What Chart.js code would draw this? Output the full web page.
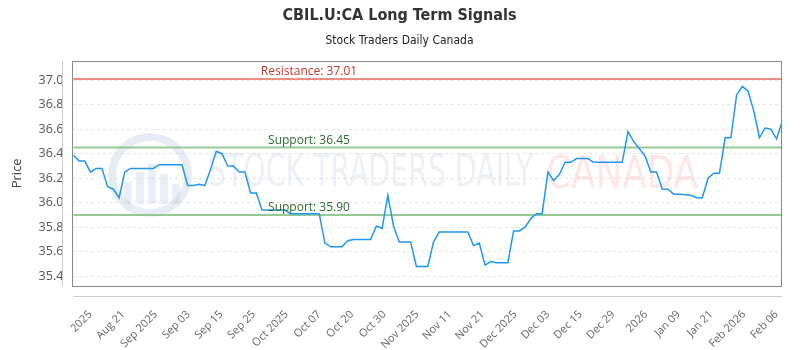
<!DOCTYPE html>
<html>
<head>
<meta charset="utf-8">
<script src="https://cdn.jsdelivr.net/npm/chart.js@4/dist/chart.umd.min.js"></script>
<style>
  body { margin: 0; background: #fff; }
  #wrap { width: 800px; height: 350px; }
</style>
</head>
<body>
<div id="wrap"><canvas id="myChart"></canvas></div>
<script>
// price, one value per session
const prices = [
  36.39, 36.34, 36.34, 36.25, 36.28, 36.28, 36.13, 36.11, 36.04, 36.25,
  36.28, 36.28, 36.28, 36.28, 36.28, 36.31, 36.31, 36.31, 36.31, 36.31,
  36.14, 36.14, 36.15, 36.14, 36.27, 36.42, 36.40, 36.30, 36.30, 36.25,
  36.25, 36.08, 36.08, 35.94, 35.94, 35.94, 35.94, 35.94, 35.91, 35.91,
  35.91, 35.91, 35.91, 35.91, 35.67, 35.64, 35.64, 35.64, 35.69, 35.70,
  35.70, 35.70, 35.70, 35.81, 35.79, 36.06, 35.81, 35.68, 35.68, 35.68,
  35.48, 35.48, 35.48, 35.68, 35.76, 35.76, 35.76, 35.76, 35.76, 35.76,
  35.65, 35.67, 35.49, 35.52, 35.51, 35.51, 35.51, 35.77, 35.77, 35.80,
  35.87, 35.91, 35.91, 36.25, 36.18, 36.23, 36.33, 36.33, 36.36, 36.36,
  36.36, 36.33, 36.33, 36.33, 36.33, 36.33, 36.33, 36.58, 36.50, 36.44,
  36.38, 36.25, 36.25, 36.11, 36.11, 36.07, 36.07, 36.065, 36.06, 36.04,
  36.04, 36.20, 36.24, 36.24, 36.53, 36.53, 36.88, 36.95, 36.91, 36.75,
  36.53, 36.61, 36.60, 36.52, 36.67
]
const tickLabels = ['2025', 'Aug 21', 'Sep 2025', 'Sep 03', 'Sep 15', 'Sep 25', 'Oct 2025', 'Oct 07',
  'Oct 20', 'Oct 30', 'Nov 2025', 'Nov 11', 'Nov 21', 'Dec 2025', 'Dec 03', 'Dec 15', 'Dec 29',
  '2026', 'Jan 09', 'Jan 21', 'Feb 2026', 'Feb 06']
const yTicks = [35.4, 35.6, 35.8, 36.0, 36.2, 36.4, 36.6, 36.8, 37.0]
const resistance = 37.01
const supports = [36.45, 35.90]

const firstTick = 3
const tickStep = 5.714
const lastIdx = prices.length - 1

const levelLine = (v) => [{ x: 0, y: v }, { x: lastIdx, y: v }]

const chartDeco = {
  id: 'chartDeco',
  beforeDatasetsDraw(chart) {
    const { ctx } = chart
    ctx.save()
    // watermark
    ctx.strokeStyle = 'rgba(190,200,225,0.35)'
    ctx.lineWidth = 8
    ctx.beginPath()
    ctx.arc(150, 175, 38, 0, Math.PI * 2)
    ctx.stroke()
    ctx.fillStyle = 'rgba(190,200,225,0.3)'
    ;[[124, 22], [136, 32], [148, 40], [160, 30], [172, 20]].forEach(([x, h]) => {
      ctx.fillRect(x, 204 - h, 8, h)
    })
    ctx.font = '44px "DejaVu Sans Condensed", "Liberation Sans Narrow", sans-serif'
    ctx.textBaseline = 'middle'
    const w1 = ctx.measureText('STOCK TRADERS DAILY').width
    ctx.translate(208, 175)
    ctx.scale(325 / w1, 1)
    ctx.fillStyle = 'rgba(200,210,230,0.32)'
    ctx.fillText('STOCK TRADERS DAILY', 0, 0)
    ctx.setTransform(1, 0, 0, 1, 0, 0)
    const w2 = ctx.measureText('CANADA').width
    ctx.translate(546, 177)
    ctx.scale(152 / w2, 1)
    ctx.fillStyle = 'rgba(255,170,170,0.28)'
    ctx.fillText('CANADA', 0, 0)
    ctx.restore()
  },
  afterDatasetsDraw(chart) {
    const { ctx, chartArea: a, scales: { y } } = chart
    ctx.save()
    ctx.font = '12px "Open Sans", sans-serif'
    ctx.textAlign = 'center'
    ctx.textBaseline = 'bottom'
    ctx.fillStyle = '#c0392b'
    ctx.fillText('Resistance: ' + resistance.toFixed(2), 309, y.getPixelForValue(resistance) - 1)
    ctx.fillStyle = '#2e6b2e'
    supports.forEach(s => ctx.fillText('Support: ' + s.toFixed(2), 309, y.getPixelForValue(s) - 1))
    // frame and offset axis lines
    ctx.strokeStyle = '#888'
    ctx.lineWidth = 1
    ctx.strokeRect(Math.round(a.left) - 0.5, Math.round(a.top) + 0.5, Math.round(a.right - a.left), Math.round(a.bottom - a.top))
    ctx.strokeStyle = '#ccc'
    ctx.beginPath()
    ctx.moveTo(Math.round(a.left) - 10.5, a.top)
    ctx.lineTo(Math.round(a.left) - 10.5, a.bottom)
    ctx.moveTo(a.left, Math.round(a.bottom) + 10.5)
    ctx.lineTo(a.right, Math.round(a.bottom) + 10.5)
    ctx.stroke()
    ctx.restore()
  }
}

Chart.defaults.font.family = '"Open Sans", sans-serif'
Chart.defaults.color = '#666'

new Chart(document.getElementById('myChart'), {
  type: 'line',
  data: {
    datasets: [
      { data: prices.map((p, i) => ({ x: i, y: p })), borderColor: '#2196f3', borderWidth: 1.5, pointRadius: 0, tension: 0 },
      { data: levelLine(resistance), borderColor: 'rgba(232,120,110,0.85)', borderWidth: 2, pointRadius: 0 },
      { data: levelLine(supports[0]), borderColor: 'rgba(120,190,120,0.8)', borderWidth: 2, pointRadius: 0 },
      { data: levelLine(supports[1]), borderColor: 'rgba(120,190,120,0.8)', borderWidth: 2, pointRadius: 0 }
    ]
  },
  options: {
    responsive: true,
    maintainAspectRatio: false,
    animation: false,
    layout: { padding: { top: 6, left: 9, right: 10, bottom: 0 } },
    plugins: {
      legend: { display: false },
      tooltip: { enabled: false },
      title: {
        display: true, text: 'CBIL.U:CA Long Term Signals', color: '#333',
        font: { size: 16, weight: 'bold', family: '"Liberation Sans Narrow", "DejaVu Sans Condensed", sans-serif' },
        padding: { top: 0, bottom: 8 }
      },
      subtitle: {
        display: true, text: 'Stock Traders Daily Canada', color: '#222',
        font: { size: 12, family: '"Liberation Sans Narrow", "DejaVu Sans Condensed", sans-serif' },
        padding: { top: 0, bottom: 13 }
      }
    },
    scales: {
      x: {
        type: 'linear', min: 0, max: lastIdx,
        grid: { display: false },
        border: { display: false },
        afterBuildTicks: (s) => { s.ticks = tickLabels.map((t, k) => ({ value: firstTick + k * tickStep })) },
        afterFit: (s) => { s.height = 64 },
        ticks: {
          autoSkip: false, maxRotation: 45, minRotation: 45, padding: 14,
          font: { size: 11 }, color: '#666',
          callback: (v, i) => tickLabels[i]
        }
      },
      y: {
        min: 35.32, max: 37.16,
        grid: { color: '#e6e6e6', drawTicks: false },
        border: { display: false, dash: [3, 3] },
        afterBuildTicks: (s) => { s.ticks = yTicks.map(v => ({ value: v })) },
        ticks: { padding: 10, font: { size: 12.5 }, color: '#555', callback: (v) => v.toFixed(1) },
        title: { display: true, text: 'Price', color: '#444', font: { size: 13 }, padding: { top: 0, bottom: 4 } }
      }
    }
  },
  plugins: [chartDeco]
})
</script>
</body>
</html>
